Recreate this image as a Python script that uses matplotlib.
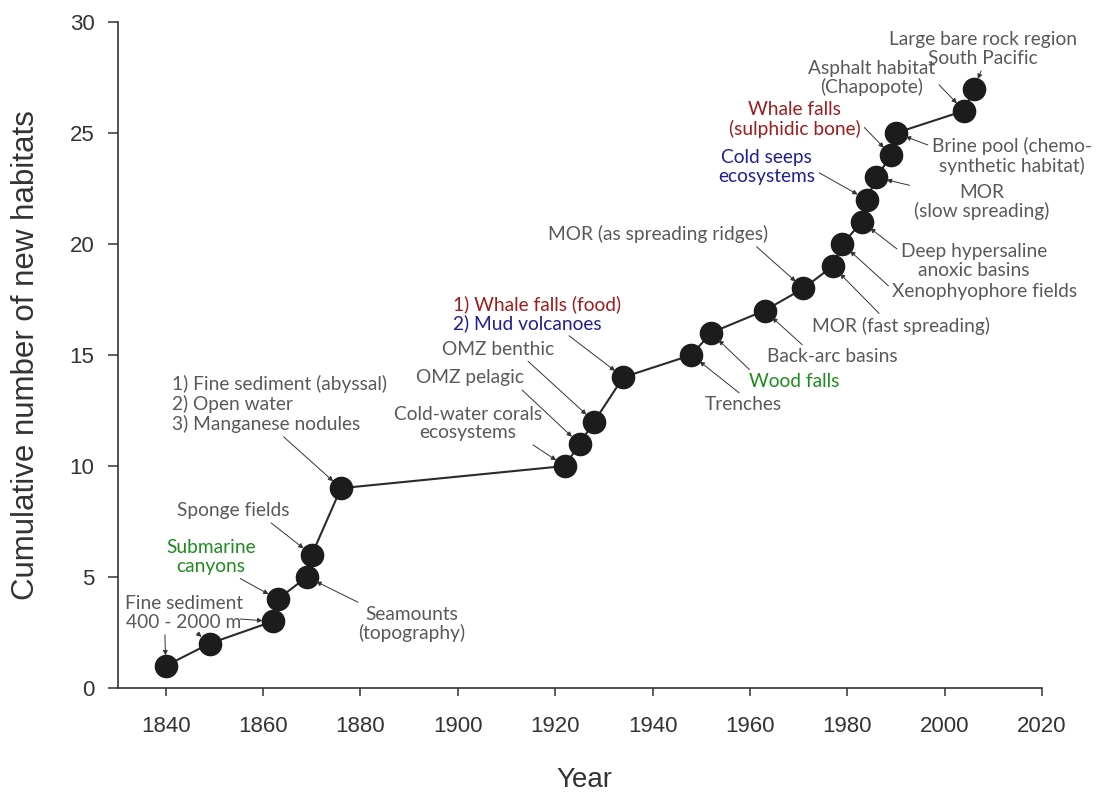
import matplotlib.pyplot as plt

# Year each new deep-sea habitat was found, and the running total
years = [1840, 1849, 1862, 1863, 1869, 1870, 1876, 1922, 1925, 1928, 1934,
         1948, 1952, 1963, 1971, 1977, 1979, 1983, 1984, 1986, 1989, 1990,
         2004, 2006]
counts = [1, 2, 3, 4, 5, 6, 9, 10, 11, 12, 14, 15, 16, 17, 18, 19, 20, 21,
          22, 23, 24, 25, 26, 27]

# habitat labels: (point index, text, colour key)
habitats = [
    (0, 'Fine sediment\n400 - 2000 m', 'gray'),
    (3, 'Submarine\ncanyons', 'green'),
    (5, 'Sponge fields', 'gray'),
    (4, 'Seamounts\n(topography)', 'gray'),
    (6, '1) Fine sediment (abyssal)\n2) Open water\n3) Manganese nodules', 'gray'),
    (7, 'Cold-water corals\necosystems', 'gray'),
    (8, 'OMZ pelagic', 'gray'),
    (9, 'OMZ benthic', 'gray'),
    (10, '1) Whale falls (food)', 'red'),
    (10, '2) Mud volcanoes', 'blue'),
    (14, 'MOR (as spreading ridges)', 'gray'),
    (11, 'Trenches', 'gray'),
    (12, 'Wood falls', 'green'),
    (13, 'Back-arc basins', 'gray'),
    (15, 'MOR (fast spreading)', 'gray'),
    (16, 'Xenophyophore fields', 'gray'),
    (17, 'Deep hypersaline\nanoxic basins', 'gray'),
    (19, 'MOR\n(slow spreading)', 'gray'),
    (21, 'Brine pool (chemo-\nsynthetic habitat)', 'gray'),
    (18, 'Cold seeps\necosystems', 'blue'),
    (20, 'Whale falls\n(sulphidic bone)', 'red'),
    (22, 'Asphalt habitat\n(Chapopote)', 'gray'),
    (23, 'Large bare rock region\nSouth Pacific', 'gray'),
]

# layout for each label: text offset from its point (px), arrow start on text box, alignment
layout = [
    ((18, 53), (0.34, 0.0), 'center'),
    ((-67, 42), (0.76, 0.0), 'center'),
    ((-79, 44), (0.8, 0.0), 'center'),
    ((105, -47), (0.06, 1.0), 'center'),
    ((-169, 84), (0.5, 0.0), 'left'),
    ((-97, 42.5), (0.83, 0.2), 'center'),
    ((-110, 66), (0.95, 0.0), 'center'),
    ((-96, 72.6), (0.73, 0.0), 'center'),
    ((-170.5, 73), None, 'left'),
    ((-170.5, 54), (0.75, 0.0), 'left'),
    ((-145.7, 54.4), (0.93, 0.0), 'center'),
    ((52.3, -50), (0.5, 1.0), 'center'),
    ((83, -49), (0.05, 1.0), 'center'),
    ((68, -46.4), (0.3, 1.0), 'center'),
    ((68, -60), (0.4, 1.0), 'center'),
    ((142.4, -47), (0.0, 0.6), 'center'),
    ((112, -39), (0.0, 0.75), 'center'),
    ((105, -24.6), (0.2, 0.75), 'center'),
    ((116, -23), (0.0, 0.75), 'center'),
    ((-100, 32.6), (1.0, 0.4), 'center'),
    ((-96.3, 36), (0.9, 0.75), 'center'),
    ((-92.4, 32.8), (0.95, 0.6), 'center'),
    ((9, 39.6), (0.5, 0.0), 'center'),
]

# extra arrows from the "Fine sediment" label to two more points: (index, tail offset px)
extra_arrows = [(1, (-12.5, 10.6)), (2, (-32.8, 2.4))]

colors = {'gray': '#595959', 'red': '#a01c1c', 'blue': '#1f1f96', 'green': '#1e8c1e'}

fig = plt.figure(figsize=(10.99, 7.95), dpi=100)
ax = fig.add_axes([118 / 1099, 1 - 688 / 795, 924 / 1099, 666 / 795])
PX = 72 / fig.dpi

ax.plot(years, counts, '-', color='#2a2a2a', lw=1.5, zorder=2)
ax.plot(years, counts, 'o', color='#1c1c1c', markersize=16, zorder=3)

arrow_kw = dict(arrowstyle='-|>', color='#333333', lw=0.7, mutation_scale=7,
                shrinkA=1, shrinkB=7.5)

for (i, text, ckey), (off, rel, ha) in zip(habitats, layout):
    props = None
    if rel is not None:
        props = dict(arrow_kw, relpos=rel)
    ax.annotate(text, xy=(years[i], counts[i]), xycoords='data',
                xytext=(off[0] * PX, off[1] * PX), textcoords='offset points',
                ha=ha, va='center', fontsize=13.8, family='Lato',
                color=colors[ckey], linespacing=1.12, arrowprops=props, zorder=4)

for i, off in extra_arrows:
    ax.annotate('', xy=(years[i], counts[i]), xytext=(off[0] * PX, off[1] * PX),
                textcoords='offset points', arrowprops=dict(arrow_kw, shrinkA=0))

ax.set_xlim(1830.2, 2020)
ax.set_ylim(0, 30)
ax.set_xticks(range(1840, 2021, 20))
ax.set_yticks(range(0, 31, 5))

for side in ['top', 'right']:
    ax.spines[side].set_visible(False)
for side in ['left', 'bottom']:
    ax.spines[side].set_color('#333333')
    ax.spines[side].set_linewidth(1.2)

ax.tick_params(axis='y', length=7, width=1.1, color='#333333', pad=10,
               labelsize=16, labelcolor='#333333')
ax.tick_params(axis='x', length=6, width=1.1, color='#333333', pad=14,
               labelsize=16, labelcolor='#333333')
for lab in ax.get_xticklabels() + ax.get_yticklabels():
    lab.set_family('Liberation Sans')

ax.set_xlabel('Year', fontsize=20, family='Liberation Sans', color='#333333', va='center')
ax.xaxis.set_label_coords(0.505, -0.138)
ax.set_ylabel('Cumulative number of new habitats', fontsize=22.5,
              family='Liberation Sans', color='#333333', va='center')
ax.yaxis.set_label_coords(-0.1, 0.5)

fig.savefig('out.png', dpi=100)
